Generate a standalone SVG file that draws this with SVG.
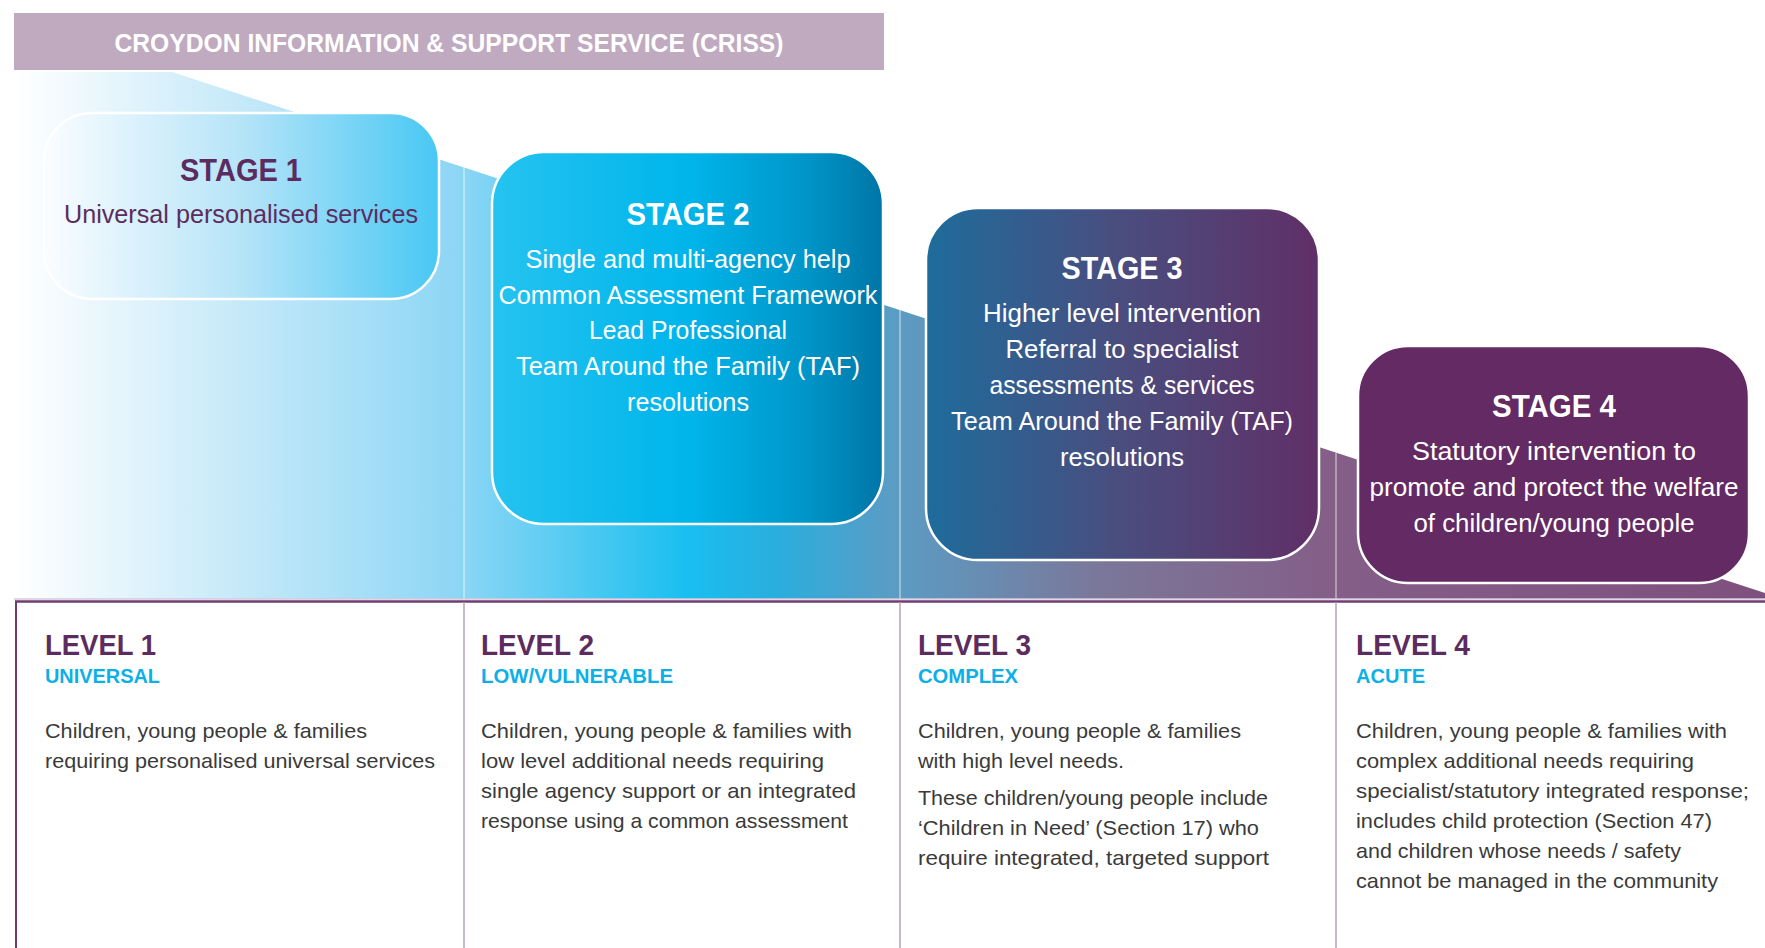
<svg xmlns="http://www.w3.org/2000/svg" width="1765" height="948" viewBox="0 0 1765 948">
<defs>
<linearGradient id="bgGrad" gradientUnits="userSpaceOnUse" x1="14" y1="0" x2="1765" y2="0">
<stop offset="0" stop-color="#ffffff"/>
<stop offset="0.123" stop-color="#c8eaf9"/>
<stop offset="0.254" stop-color="#8dd6f5"/>
<stop offset="0.385" stop-color="#18bff0"/>
<stop offset="0.435" stop-color="#2aaede"/>
<stop offset="0.503" stop-color="#5b9cc4"/>
<stop offset="0.617" stop-color="#7a789a"/>
<stop offset="0.748" stop-color="#845f88"/>
<stop offset="1" stop-color="#7e507e"/>
</linearGradient>
<linearGradient id="s1Grad" x1="0" y1="0" x2="1" y2="0">
<stop offset="0" stop-color="#fafdff"/>
<stop offset="0.5" stop-color="#b6e4f8"/>
<stop offset="1" stop-color="#48c8f4"/>
</linearGradient>
<linearGradient id="s2Grad" x1="0" y1="0" x2="1" y2="0">
<stop offset="0" stop-color="#25c3f0"/>
<stop offset="0.5" stop-color="#00b5eb"/>
<stop offset="0.8" stop-color="#0096c9"/>
<stop offset="1" stop-color="#0075a6"/>
</linearGradient>
<linearGradient id="s3Grad" x1="0" y1="0" x2="1" y2="0">
<stop offset="0" stop-color="#1e6c9c"/>
<stop offset="0.5" stop-color="#4a4d7e"/>
<stop offset="1" stop-color="#602f67"/>
</linearGradient>
<style>
text { font-family: "Liberation Sans", Arial, sans-serif; }
.hdr { font-size: 25px; font-weight: bold; fill: #ffffff; text-anchor: middle; }
.stitle { font-size: 32px; font-weight: bold; text-anchor: middle; }
.sbody { font-size: 25px; text-anchor: middle; }
.white { fill: #ffffff; }
.purple { fill: #5c2c5f; }
.ltitle { font-size: 30px; font-weight: bold; fill: #5c2c5f; }
.lsub { font-size: 21px; font-weight: bold; fill: #0db0e6; }
.lbody { font-size: 21px; fill: #3a3a3a; }
.box { stroke: #ffffff; stroke-width: 2.5; }
.upline { stroke: #ffffff; stroke-opacity: 0.5; stroke-width: 1.5; }
.divider { stroke: #b5a2b9; stroke-width: 1.5; }
</style>
</defs>

<g id="background">
<path d="M14,72 L172,72 L1765,593 L1765,599 L14,599 Z" fill="url(#bgGrad)"/>
<line class="upline" x1="464" y1="167" x2="464" y2="599"/>
<line class="upline" x1="900" y1="310" x2="900" y2="599"/>
<line class="upline" x1="1336" y1="453" x2="1336" y2="599"/>
</g>

<g id="table-lines">
<line x1="14" y1="599" x2="1765" y2="599" stroke="#d6c8dc" stroke-width="1.5"/>
<line x1="15" y1="601.5" x2="1765" y2="601.5" stroke="#6e3c70" stroke-width="2.5"/>
<line x1="16" y1="601" x2="16" y2="948" stroke="#6e3c70" stroke-width="2"/>
<line class="divider" x1="464" y1="602" x2="464" y2="948"/>
<line class="divider" x1="900" y1="602" x2="900" y2="948"/>
<line class="divider" x1="1336" y1="602" x2="1336" y2="948"/>
</g>

<g id="header">
<rect x="14" y="13" width="870" height="57" fill="#c0aac0"/>
<text class="hdr" x="449" y="52" textLength="669" lengthAdjust="spacingAndGlyphs">CROYDON INFORMATION &amp; SUPPORT SERVICE (CRISS)</text>
</g>

<g id="stage1">
<rect class="box" x="44" y="113" width="395" height="186" rx="48" ry="48" fill="url(#s1Grad)"/>
<text class="stitle purple" x="241" y="181" textLength="122" lengthAdjust="spacingAndGlyphs">STAGE 1</text>
<text class="sbody purple" x="241" y="223" textLength="354" lengthAdjust="spacingAndGlyphs">Universal personalised services</text>
</g>

<g id="stage2">
<rect class="box" x="492" y="152" width="391" height="372" rx="52" ry="52" fill="url(#s2Grad)"/>
<text class="stitle white" x="688" y="225" textLength="123" lengthAdjust="spacingAndGlyphs">STAGE 2</text>
<text class="sbody white" x="688" y="268" textLength="325" lengthAdjust="spacingAndGlyphs">Single and multi-agency help</text>
<text class="sbody white" x="688" y="304" textLength="379" lengthAdjust="spacingAndGlyphs">Common Assessment Framework</text>
<text class="sbody white" x="688" y="339" textLength="198" lengthAdjust="spacingAndGlyphs">Lead Professional</text>
<text class="sbody white" x="688" y="375" textLength="344" lengthAdjust="spacingAndGlyphs">Team Around the Family (TAF)</text>
<text class="sbody white" x="688" y="411" textLength="122" lengthAdjust="spacingAndGlyphs">resolutions</text>
</g>

<g id="stage3">
<rect class="box" x="926" y="208" width="393" height="352" rx="52" ry="52" fill="url(#s3Grad)"/>
<text class="stitle white" x="1122" y="279" textLength="121" lengthAdjust="spacingAndGlyphs">STAGE 3</text>
<text class="sbody white" x="1122" y="322" textLength="278" lengthAdjust="spacingAndGlyphs">Higher level intervention</text>
<text class="sbody white" x="1122" y="358" textLength="233" lengthAdjust="spacingAndGlyphs">Referral to specialist</text>
<text class="sbody white" x="1122" y="394" textLength="265" lengthAdjust="spacingAndGlyphs">assessments &amp; services</text>
<text class="sbody white" x="1122" y="430" textLength="342" lengthAdjust="spacingAndGlyphs">Team Around the Family (TAF)</text>
<text class="sbody white" x="1122" y="466" textLength="124" lengthAdjust="spacingAndGlyphs">resolutions</text>
</g>

<g id="stage4">
<rect class="box" x="1358" y="346" width="391" height="237" rx="50" ry="50" fill="#632a63"/>
<text class="stitle white" x="1554" y="417" textLength="124" lengthAdjust="spacingAndGlyphs">STAGE 4</text>
<text class="sbody white" x="1554" y="460" textLength="284" lengthAdjust="spacingAndGlyphs">Statutory intervention to</text>
<text class="sbody white" x="1554" y="496" textLength="369" lengthAdjust="spacingAndGlyphs">promote and protect the welfare</text>
<text class="sbody white" x="1554" y="532" textLength="281" lengthAdjust="spacingAndGlyphs">of children/young people</text>
</g>

<g id="level1">
<text class="ltitle" x="45" y="655" textLength="111" lengthAdjust="spacingAndGlyphs">LEVEL 1</text>
<text class="lsub" x="45" y="683" textLength="115" lengthAdjust="spacingAndGlyphs">UNIVERSAL</text>
<text class="lbody" x="45" y="738" textLength="322" lengthAdjust="spacingAndGlyphs">Children, young people &amp; families</text>
<text class="lbody" x="45" y="768" textLength="390" lengthAdjust="spacingAndGlyphs">requiring personalised universal services</text>
</g>

<g id="level2">
<text class="ltitle" x="481" y="655" textLength="113" lengthAdjust="spacingAndGlyphs">LEVEL 2</text>
<text class="lsub" x="481" y="683" textLength="192" lengthAdjust="spacingAndGlyphs">LOW/VULNERABLE</text>
<text class="lbody" x="481" y="738" textLength="371" lengthAdjust="spacingAndGlyphs">Children, young people &amp; families with</text>
<text class="lbody" x="481" y="768" textLength="343" lengthAdjust="spacingAndGlyphs">low level additional needs requiring</text>
<text class="lbody" x="481" y="798" textLength="375" lengthAdjust="spacingAndGlyphs">single agency support or an integrated</text>
<text class="lbody" x="481" y="828" textLength="367" lengthAdjust="spacingAndGlyphs">response using a common assessment</text>
</g>

<g id="level3">
<text class="ltitle" x="918" y="655" textLength="113" lengthAdjust="spacingAndGlyphs">LEVEL 3</text>
<text class="lsub" x="918" y="683" textLength="100" lengthAdjust="spacingAndGlyphs">COMPLEX</text>
<text class="lbody" x="918" y="738" textLength="323" lengthAdjust="spacingAndGlyphs">Children, young people &amp; families</text>
<text class="lbody" x="918" y="768" textLength="206" lengthAdjust="spacingAndGlyphs">with high level needs.</text>
<text class="lbody" x="918" y="805" textLength="350" lengthAdjust="spacingAndGlyphs">These children/young people include</text>
<text class="lbody" x="918" y="835" textLength="341" lengthAdjust="spacingAndGlyphs">‘Children in Need’ (Section 17) who</text>
<text class="lbody" x="918" y="865" textLength="351" lengthAdjust="spacingAndGlyphs">require integrated, targeted support</text>
</g>

<g id="level4">
<text class="ltitle" x="1356" y="655" textLength="114" lengthAdjust="spacingAndGlyphs">LEVEL 4</text>
<text class="lsub" x="1356" y="683" textLength="69" lengthAdjust="spacingAndGlyphs">ACUTE</text>
<text class="lbody" x="1356" y="738" textLength="371" lengthAdjust="spacingAndGlyphs">Children, young people &amp; families with</text>
<text class="lbody" x="1356" y="768" textLength="338" lengthAdjust="spacingAndGlyphs">complex additional needs requiring</text>
<text class="lbody" x="1356" y="798" textLength="393" lengthAdjust="spacingAndGlyphs">specialist/statutory integrated response;</text>
<text class="lbody" x="1356" y="828" textLength="356" lengthAdjust="spacingAndGlyphs">includes child protection (Section 47)</text>
<text class="lbody" x="1356" y="858" textLength="325" lengthAdjust="spacingAndGlyphs">and children whose needs / safety</text>
<text class="lbody" x="1356" y="888" textLength="362" lengthAdjust="spacingAndGlyphs">cannot be managed in the community</text>
</g>
</svg>
